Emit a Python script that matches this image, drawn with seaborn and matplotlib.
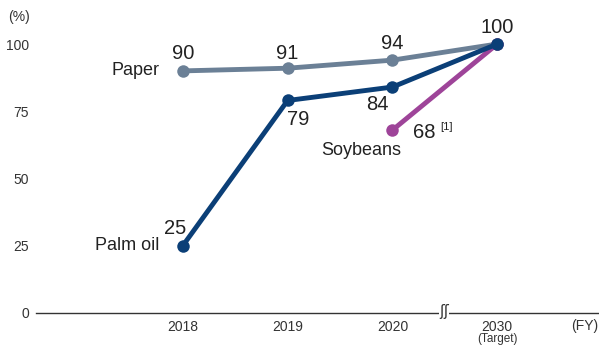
import matplotlib
matplotlib.use("Agg")
import matplotlib.pyplot as plt
import seaborn as sns
import pandas as pd

years = ["2018", "2019", "2020", "2030"]
paper = [90, 91, 94, 100]
palm_oil = [25, 79, 84, 100]
soy_years = ["2020", "2030"]
soybeans = [68, 100]
y_ticks = [0, 25, 50, 75, 100]

sns.set_style("white")
plt.rcParams['font.family'] = ['Liberation Sans', 'DejaVu Sans']

rows = []
for y, v in zip(years, paper):
    rows.append(("Paper", years.index(y), v))
for y, v in zip(years, palm_oil):
    rows.append(("Palm oil", years.index(y), v))
for y, v in zip(soy_years, soybeans):
    rows.append(("Soybeans", years.index(y), v))
df = pd.DataFrame(rows, columns=["series", "x", "value"])

colors = {"Paper": "#6b8096", "Palm oil": "#0b3f77", "Soybeans": "#9e4499"}

fig = plt.figure(figsize=(5.99, 3.49), dpi=100)
ax = fig.add_axes([36/599, 1-313/349, 1-36/599, (313-44)/349])

for name in ["Paper", "Soybeans", "Palm oil"]:
    sub = df[df.series == name]
    sns.lineplot(data=sub, x="x", y="value", ax=ax, color=colors[name],
                 linewidth=3.5, marker="o", markersize=9, markeredgewidth=0,
                 legend=False)
for ln in ax.lines:
    ln.set_clip_on(False)
    ln.set_solid_capstyle("round")

ax.set_xlim(-1.40, 3.97)
ax.set_ylim(0, 100)
for s in ["top", "right", "left"]:
    ax.spines[s].set_visible(False)
ax.spines["bottom"].set_color("#333333")
ax.spines["bottom"].set_linewidth(1.0)
ax.set_xlabel("")
ax.set_ylabel("")

tick_c = "#333333"
ax.set_xticks(range(len(years)))
ax.set_xticklabels(years, fontsize=10, color=tick_c)
ax.set_yticks(y_ticks)
ax.set_yticklabels([str(t) for t in y_ticks], fontsize=10, color=tick_c)
ax.tick_params(axis="x", length=0, pad=5)
ax.tick_params(axis="y", length=0, pad=5)

ax.text(3, -7.6, "(Target)", ha="center", va="top", fontsize=8.5, color=tick_c)
ax.text(3.965, -2.2, "(FY)", ha="right", va="top", fontsize=10, color=tick_c)
fig.text(8/599, 1-17/349, "(%)", ha="left", va="center", fontsize=10, color=tick_c)
ax.text(2.49, 0.6, "ʃʃ", ha="center", va="center", fontsize=10.5, color=tick_c,
        family=['DejaVu Sans'], clip_on=False, zorder=5,
        bbox=dict(facecolor="white", edgecolor="none", pad=0.0))

num_fs = 14.5
tc = "#222222"
ax.text(0, 93, "90", ha="center", va="bottom", fontsize=num_fs, color=tc)
ax.text(1, 93, "91", ha="center", va="bottom", fontsize=num_fs, color=tc)
ax.text(2, 96.5, "94", ha="center", va="bottom", fontsize=num_fs, color=tc)
ax.text(3, 102.5, "100", ha="center", va="bottom", fontsize=num_fs, color=tc)
ax.text(1.1, 75.5, "79", ha="center", va="top", fontsize=num_fs, color=tc)
ax.text(1.86, 81, "84", ha="center", va="top", fontsize=num_fs, color=tc)
ax.text(0.03, 28, "25", ha="right", va="bottom", fontsize=num_fs, color=tc)
ax.text(2.2, 67, "68", ha="left", va="center", fontsize=num_fs, color=tc)
ax.text(2.455, 69, "[1]", ha="left", va="center", fontsize=8, color=tc)

lab_fs = 13
ax.text(-0.22, 90, "Paper", ha="right", va="center", fontsize=lab_fs, color=tc)
ax.text(-0.22, 25, "Palm oil", ha="right", va="center", fontsize=lab_fs, color=tc)
ax.text(1.7, 60.5, "Soybeans", ha="center", va="center", fontsize=lab_fs, color=tc)

fig.savefig("out.png", dpi=100)
